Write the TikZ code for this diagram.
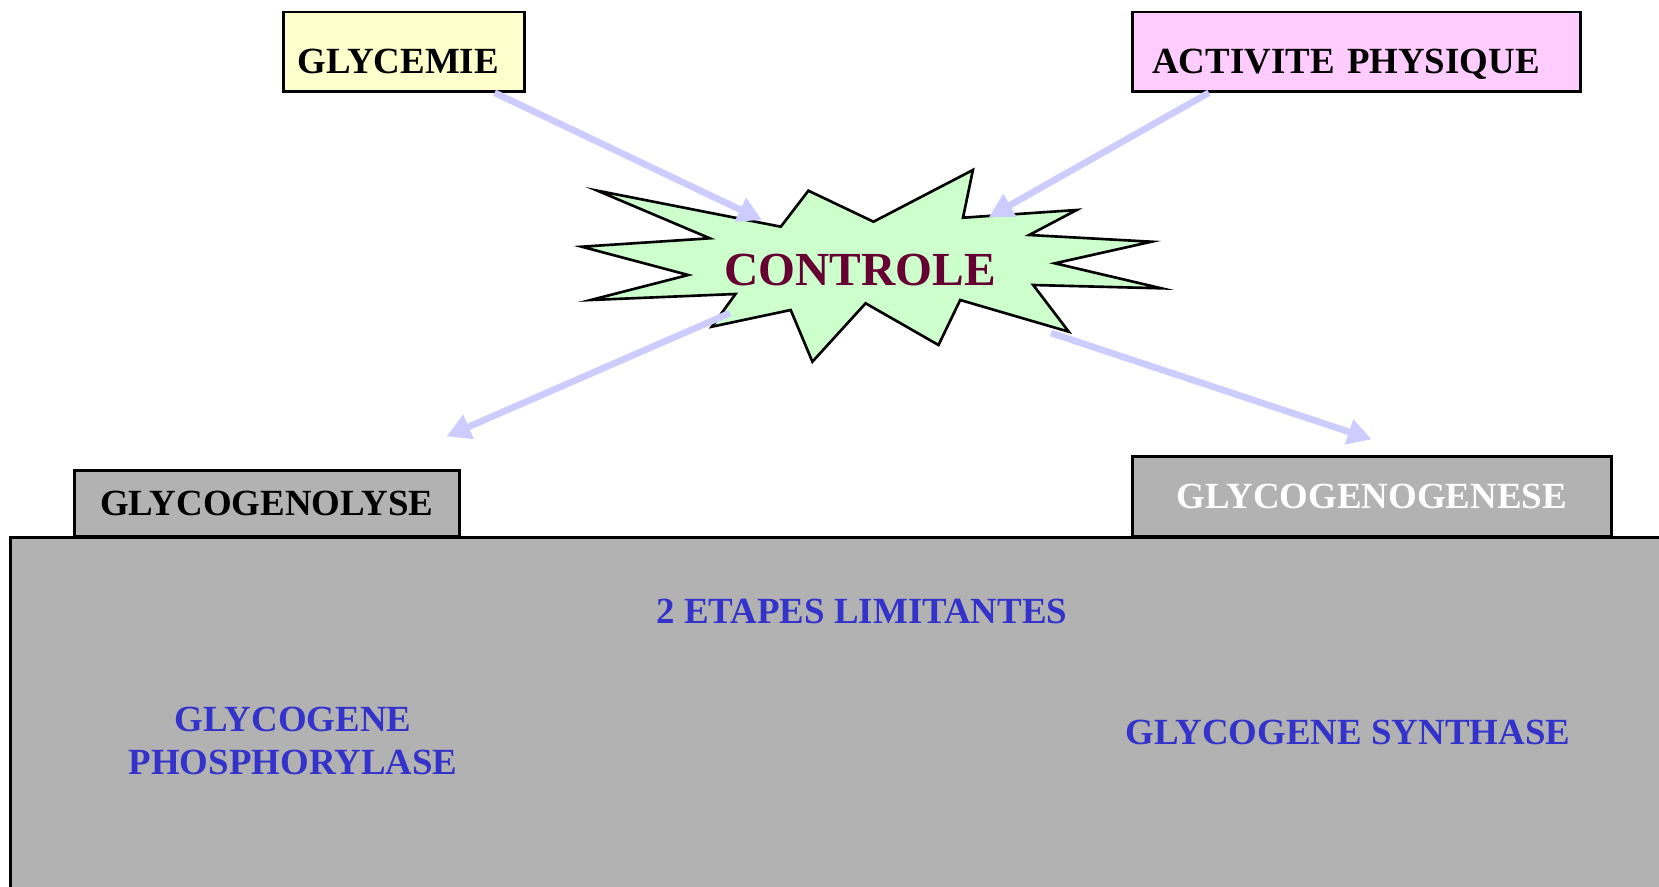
\documentclass[tikz,border=0pt]{standalone}
\usepackage{fontspec}
\setmainfont{Liberation Serif}
\usetikzlibrary{arrows.meta, positioning, calc}

\definecolor{glyyellow}{HTML}{FFFFCC}
\definecolor{actpink}{HTML}{FFCCFF}
\definecolor{burstgreen}{HTML}{CCFFCC}
\definecolor{boxgray}{HTML}{B2B2B2}
\definecolor{arrowblue}{HTML}{CCCCFF}
\definecolor{enzblue}{HTML}{3333CC}
\definecolor{ctrlred}{HTML}{660033}

\begin{document}
\begin{tikzpicture}[
        x=0.02cm, y=-0.02cm,
        bigfont/.style={font=\fontsize{21}{24.6}\selectfont\bfseries},
        topbox/.style={draw, line width=1.5pt, anchor=north west, inner ysep=0pt,
            text height=1.23cm, text depth=0.36cm, align=left, bigfont},
        pathbox/.style={draw, fill=boxgray, line width=1.5pt, anchor=south west,
            inner sep=0pt, bigfont},
        enzyme/.style={text=enzblue, align=center, bigfont},
        ctrl/.style={-{Triangle[length=0.48cm, width=0.5cm]}, arrowblue, line width=3.8pt}
    ]
        \useasboundingbox (0,0) rectangle (1659,886);
        \clip (0,0) rectangle (1659,886);

        \node[topbox, fill=glyyellow, inner xsep=0.28cm, text width=4.26cm] (glycemie) at (282,10.6) {GLYCEMIE};
        \node[topbox, fill=actpink, inner xsep=0.4cm, text width=8.16cm] (activite) at (1131,10.6) {ACTIVITE PHYSIQUE};

        % cell block with the two pathways on top
        \draw[fill=boxgray, line width=1.5pt] (10.6,537.5) rectangle (1700,950);
        \node[pathbox, minimum width=7.7cm, minimum height=1.31cm] (lyse) at (73,537.5) {GLYCOGENOLYSE};
        \node[pathbox, text=white, minimum width=9.58cm, minimum height=1.59cm] (genese) at (1131,537.5) {GLYCOGENOGENESE};

        \node[enzyme, anchor=base] (etapes) at (862,623) {2 ETAPES LIMITANTES};
        \node[enzyme] (phospho) at (293,741) {GLYCOGENE\\PHOSPHORYLASE};
        \node[enzyme, anchor=base] (synthase) at (1348,744) {GLYCOGENE SYNTHASE};

        % control burst
        \draw[fill=burstgreen, line width=1.5pt, line join=miter]
            (597.5,190.7) -- (780.8,226.7) -- (808.4,190.7) -- (873.5,221.7)
            -- (972.9,170) -- (963,217.7) -- (1076.6,210) -- (1029.2,235)
            -- (1151.5,241.7) -- (1054.9,263.3) -- (1161.3,288.3) -- (1033.2,285)
            -- (1068.7,331.7) -- (960.2,300) -- (938.5,345) -- (865.6,303.3)
            -- (812.4,361.7) -- (790.7,310) -- (711.8,326.7) -- (735.5,294)
            -- (590.8,300) -- (688.2,275) -- (581.7,246.7) -- (709.8,238.3) -- cycle;
        \node[anchor=base, text=ctrlred, font=\fontsize{27}{30}\selectfont\bfseries] (controle) at (860,285) {CONTROLE};

        \coordinate (inglyc) at (762,220);
        \coordinate (inact) at (989,217);
        \coordinate (outlyse) at (730,313);
        \coordinate (outgen) at (1051,333);

        \draw[ctrl] ([xshift=-0.62cm]glycemie.south east) -- (inglyc);
        \draw[ctrl] ([xshift=1.56cm]activite.south west) -- (inact);
        \draw[ctrl] (outlyse) -- ([xshift=-0.28cm, yshift=0.66cm]lyse.north east);
        \draw[ctrl] (outgen) -- ([yshift=0.32cm]genese.north);
    \end{tikzpicture}
\end{document}
